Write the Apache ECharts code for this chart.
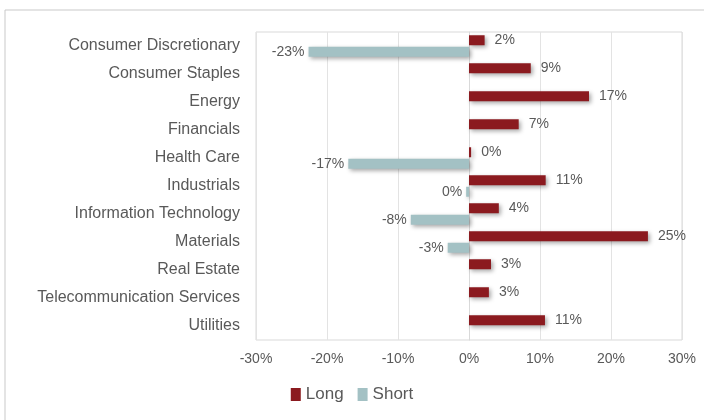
<!DOCTYPE html>
<html>
<head>
<meta charset="utf-8">
<script src="https://cdn.jsdelivr.net/npm/echarts@6/dist/echarts.min.js"></script>
<style>
  html, body { margin: 0; padding: 0; background: #fff; }
  #chart { width: 704px; height: 420px; }
</style>
</head>
<body>
<div id="chart"></div>
<script>
const sectors = ["Consumer Discretionary", "Consumer Staples", "Energy", "Financials",
  "Health Care", "Industrials", "Information Technology", "Materials",
  "Real Estate", "Telecommunication Services", "Utilities"];
const longValues = [2.2, 8.7, 16.9, 7.0, 0.3, 10.8, 4.2, 25.2, 3.1, 2.8, 10.7];
const shortValues = [-22.6, null, null, null, -17.0, -0.4, -8.2, -3.0, null, null, null];
const tickLabels = ["-30%", "-20%", "-10%", "0%", "10%", "20%", "30%"];

const FONT = "'Liberation Sans Narrow', 'Liberation Sans', Arial, sans-serif";
const TEXT = "#595959";

function pct(p) {
  return Math.round(p.value) + "%";
}

const chart = echarts.init(document.getElementById("chart"));
chart.setOption({
  animation: false,
  textStyle: { fontFamily: FONT },
  graphic: [{
    type: "rect",
    shape: { x: 5, y: 10, width: 720, height: 440 },
    style: { fill: "none", stroke: "#c9c9c9", lineWidth: 1 },
    silent: true
  }],
  legend: {
    bottom: 12,
    left: "center",
    itemWidth: 10,
    itemHeight: 13,
    itemGap: 14,
    textStyle: { color: TEXT, fontSize: 17, fontFamily: FONT },
    data: [
      { name: "Long", icon: "rect" },
      { name: "Short", icon: "rect" }
    ]
  },
  grid: {
    left: 256, right: 22, top: 32, bottom: 80,
    show: true, borderColor: "#d9d9d9", borderWidth: 1
  },
  xAxis: {
    type: "value",
    min: -30, max: 30, interval: 10,
    axisLine: { show: false },
    axisTick: { show: false },
    splitLine: { lineStyle: { color: "#e3e3e3" } },
    axisLabel: {
      color: TEXT, fontSize: 14, margin: 12, fontFamily: FONT,
      formatter: function (v) { return tickLabels[Math.round((v + 30) / 10)]; }
    }
  },
  yAxis: {
    type: "category",
    inverse: true,
    data: sectors,
    axisLine: { lineStyle: { color: "#d9d9d9" } },
    axisTick: { show: false },
    axisLabel: { color: TEXT, fontSize: 16, margin: 16, fontFamily: FONT }
  },
  series: [
    {
      name: "Long",
      type: "bar",
      data: longValues,
      barWidth: 10,
      barGap: "15%",
      itemStyle: {
        color: "#8B1A1F",
        shadowColor: "rgba(0,0,0,0.35)", shadowBlur: 4, shadowOffsetX: 2, shadowOffsetY: 2
      },
      label: {
        show: true, position: "right", distance: 10,
        color: TEXT, fontSize: 14, fontFamily: FONT, formatter: pct
      }
    },
    {
      name: "Short",
      type: "bar",
      data: shortValues,
      barWidth: 10,
      itemStyle: {
        color: "#A3C1C4",
        shadowColor: "rgba(0,0,0,0.35)", shadowBlur: 4, shadowOffsetX: 2, shadowOffsetY: 2
      },
      label: {
        show: true, position: "left", distance: 4,
        color: TEXT, fontSize: 14, fontFamily: FONT, formatter: pct
      }
    }
  ]
});
</script>
</body>
</html>
